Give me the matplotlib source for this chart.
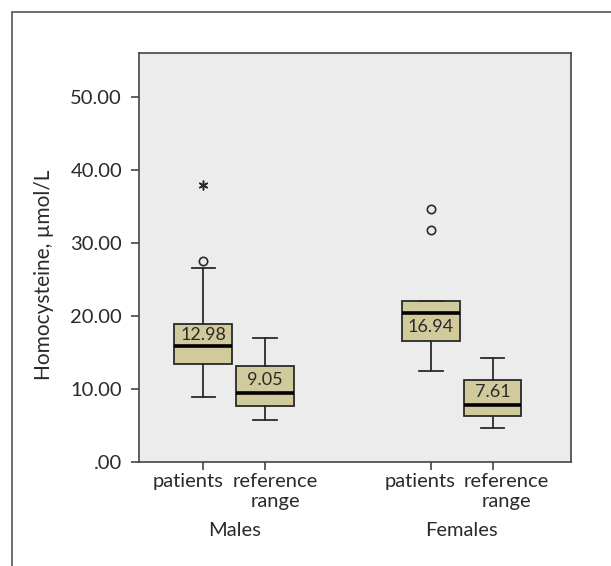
import matplotlib
matplotlib.use("Agg")
import matplotlib.pyplot as plt
from matplotlib.patches import Rectangle

plt.rcParams["font.family"] = ["Lato", "DejaVu Sans"]

# ---------------------------------------------------------------------------
# Homocysteine by sex: patients vs reference range
# ---------------------------------------------------------------------------
groups = ["Males", "Females"]
tick_labels = ["patients", "reference\nrange", "patients", "reference\nrange"]
positions = [1.0, 2.0, 4.7, 5.7]

q1 = [13.4, 7.66, 16.5, 6.3]
med = [15.9, 9.4, 20.3, 7.75]
q3 = [18.8, 13.1, 22.0, 11.2]
whislo = [8.9, 5.75, 12.4, 4.55]
whishi = [26.5, 16.9, 22.0, 14.2]
outliers = [[27.5], [], [34.6, 31.7], []]
extremes = [[37.9], [], [], []]
box_text = ["12.98", "9.05", "16.94", "7.61"]

yticks = [0, 10, 20, 30, 40, 50]
ytick_labels = [".00", "10.00", "20.00", "30.00", "40.00", "50.00"]

DARK = "#2a2a2a"
FACE = "#d0ca9c"

fig = plt.figure(figsize=(6.11, 5.66), dpi=100)
ax = fig.add_axes([0.227, 0.1843, 0.708, 0.7226])
ax.set_facecolor("#ececec")

# outer frame (open on right and bottom, as in the source)
fig.patches.append(Rectangle((12 / 611, -0.1), 1.2, 1.1 - 12.3 / 566,
                             transform=fig.transFigure, fill=False,
                             edgecolor="#555555", linewidth=1.2))

stats = [dict(q1=a, med=m, q3=b, whislo=lo, whishi=hi, fliers=f)
         for a, m, b, lo, hi, f in zip(q1, med, q3, whislo, whishi, outliers)]
ax.bxp(stats, positions=positions, widths=0.94, patch_artist=True,
       showfliers=True,
       boxprops=dict(facecolor=FACE, edgecolor=DARK, linewidth=1.3),
       medianprops=dict(color="black", linewidth=2.6),
       whiskerprops=dict(color=DARK, linewidth=1.3),
       capprops=dict(color=DARK, linewidth=1.3),
       capwidths=0.38,
       flierprops=dict(marker="o", markersize=6, markerfacecolor="none",
                       markeredgecolor=DARK, markeredgewidth=1.2))

# extreme values drawn as asterisks
for x, ext in zip(positions, extremes):
    ax.plot([x] * len(ext), ext, linestyle="none", marker=(6, 2, 0),
            markersize=7, markeredgewidth=1.1, color=DARK)

# value label in the larger half of each box
for x, a, m, b, t in zip(positions, q1, med, q3, box_text):
    y = (m + b) / 2 if (b - m) >= (m - a) else (a + m) / 2
    ax.text(x, y, t, ha="center", va="center", fontsize=13, color=DARK)

ax.set_xlim(-0.05, 6.98)
ax.set_ylim(0, 56)
ax.set_yticks(yticks)
ax.set_yticklabels(ytick_labels, fontsize=14.5, color=DARK)
ax.set_xticks(positions)
ax.set_xticklabels([])
ax.tick_params(axis="both", direction="out", length=6, width=1.2, color="#444444")
ax.tick_params(axis="y", pad=6)
for s in ax.spines.values():
    s.set_color("#444444")
    s.set_linewidth(1.2)

# category labels, shifted like the original SPSS layout
xt = ax.get_xaxis_transform()
shifts = [-0.25, 0.17, -0.18, 0.23]
for x, lab, dx in zip(positions, tick_labels, shifts):
    ax.text(x + dx, -0.028, lab, transform=xt, ha="center", va="top",
            fontsize=14.5, color=DARK, linespacing=1.2)
for i, g in enumerate(groups):
    xc = (positions[2 * i] + positions[2 * i + 1]) / 2
    ax.text(xc, -0.148, g, transform=xt, ha="center", va="top",
            fontsize=14.5, color=DARK)

fig.text(44 / 611, 1 - 275 / 566, "Homocysteine, µmol/L", rotation=90,
         ha="center", va="center", fontsize=15, color=DARK)

fig.savefig("out.png", dpi=100)
